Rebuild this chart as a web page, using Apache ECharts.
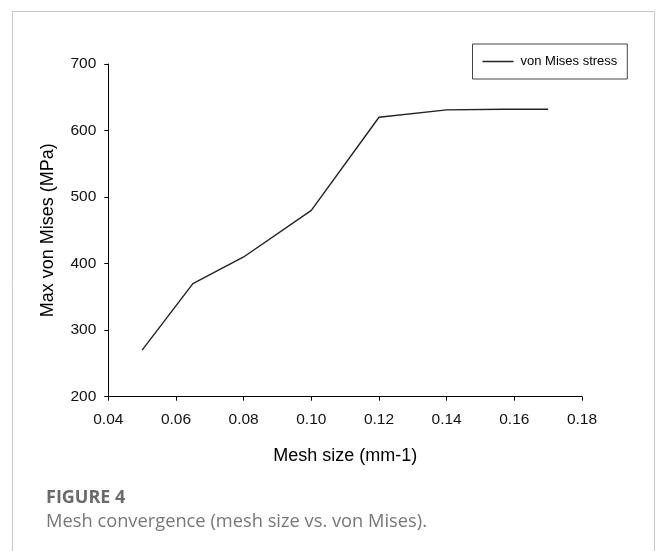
<!DOCTYPE html>
<html>
<head>
<meta charset="utf-8">
<script src="https://cdn.jsdelivr.net/npm/echarts@6/dist/echarts.min.js"></script>
<style>
  html, body { margin: 0; padding: 0; background: #fff; }
  #main { width: 656px; height: 551px; }
</style>
</head>
<body>
<div id="main"></div>
<script>
// mesh size (mm-1) and max von Mises stress (MPa)
var meshSize = [0.05, 0.065, 0.08, 0.10, 0.12, 0.14, 0.157, 0.17];
var vonMises = [270, 370, 410, 480, 620, 631, 632, 632];
var seriesName = 'von Mises stress';

var points = [];
for (var i = 0; i < meshSize.length; i++) {
    points.push([meshSize[i], vonMises[i]]);
}

var chart = echarts.init(document.getElementById('main'));
var axisFont = 'Liberation Sans, Arial, sans-serif';
var option = {
    animation: false,
    backgroundColor: '#fff',
    graphic: [
        {
            type: 'rect',
            shape: { x: 12.5, y: 11.5, width: 642, height: 560 },
            style: { fill: 'none', stroke: '#c9c9c9', lineWidth: 1 },
            silent: true
        }
    ],
    title: [
        {
            text: 'FIGURE 4',
            left: 46, top: 489, padding: 0,
            textStyle: { fontFamily: 'Open Sans, sans-serif', fontSize: 18, fontWeight: 'bold', color: '#6a6a6a' }
        },
        {
            text: 'Mesh convergence (mesh size vs. von Mises).',
            left: 46, top: 513, padding: 0,
            textStyle: { fontFamily: 'Open Sans, sans-serif', fontSize: 18.3, fontWeight: 'normal', color: '#777' }
        }
    ],
    legend: {
        data: [{ name: seriesName, icon: 'rect' }],
        left: 472.5, top: 44,
        padding: [10, 10, 10, 10],
        borderColor: '#444', borderWidth: 1,
        itemWidth: 31, itemHeight: 1.5,
        textStyle: { fontFamily: axisFont, fontSize: 13, color: '#000', padding: [0, 0, 0, 2], lineHeight: 15 }
    },
    grid: { left: 108.3, right: 74, top: 64, bottom: 154.3 },
    xAxis: {
        type: 'value',
        min: 0.04, max: 0.18, interval: 0.02,
        name: 'Mesh size (mm-1)',
        nameLocation: 'middle', nameGap: 50,
        nameTextStyle: { fontFamily: axisFont, fontSize: 18, color: '#000' },
        axisLine: { show: true, onZero: false, lineStyle: { color: '#000', width: 1 } },
        axisTick: { show: true, length: 4, lineStyle: { color: '#000' } },
        axisLabel: {
            fontFamily: axisFont, fontSize: 15.5, color: '#111', margin: 15,
            formatter: function (v) { return v.toFixed(2); }
        },
        splitLine: { show: false }
    },
    yAxis: {
        type: 'value',
        min: 200, max: 700, interval: 100,
        name: 'Max von Mises (MPa)',
        nameLocation: 'middle', nameGap: 51, nameRotate: 90,
        nameTextStyle: { fontFamily: axisFont, fontSize: 18, color: '#000' },
        axisLine: { show: true, onZero: false, lineStyle: { color: '#000', width: 1 } },
        axisTick: { show: true, length: 4, lineStyle: { color: '#000' } },
        axisLabel: { fontFamily: axisFont, fontSize: 15.5, color: '#111', margin: 12 },
        splitLine: { show: false }
    },
    series: [
        {
            name: seriesName,
            type: 'line',
            data: points,
            symbol: 'none',
            lineStyle: { color: '#222', width: 1.4 },
            itemStyle: { color: '#222' }
        }
    ]
};
chart.setOption(option);
</script>
</body>
</html>
